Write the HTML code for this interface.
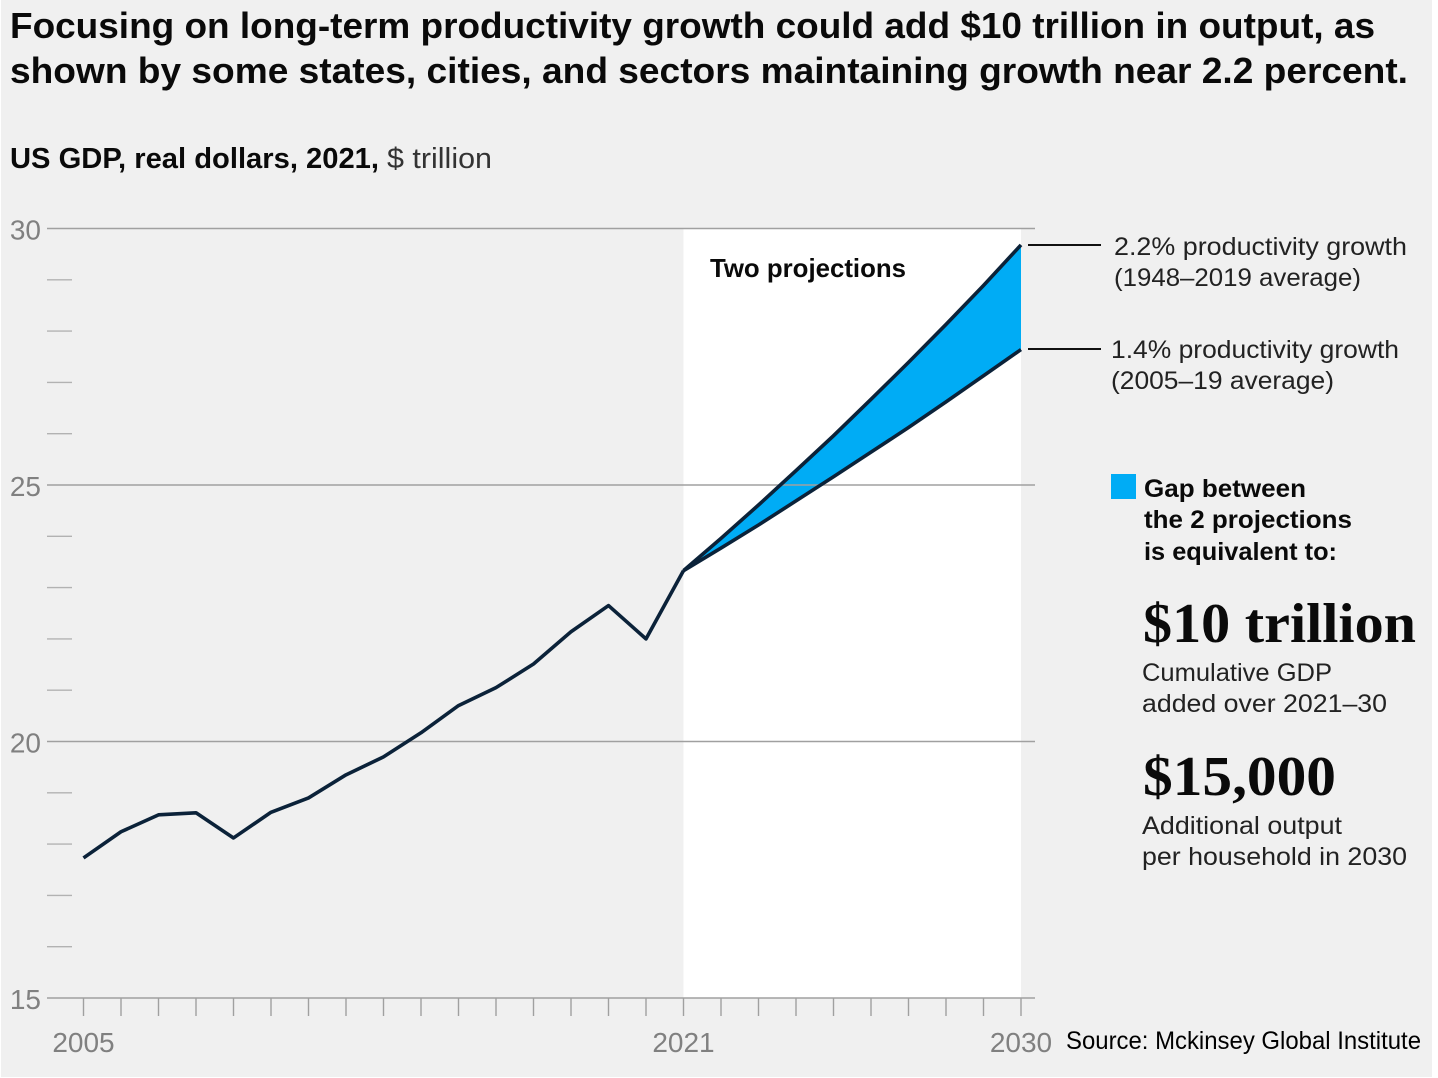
<!DOCTYPE html>
<html lang="en">
<head>
<meta charset="utf-8">
<title>US GDP projections</title>
<style>
html,body{margin:0;padding:0;background:#fff;width:1438px;height:1078px;overflow:hidden}
svg{display:block}
text{font-family:"Liberation Sans",sans-serif}
.med{fill:#0a0a0a;font-weight:bold}
.lab{fill:#222;font-size:25px}
.serif{font-family:"Liberation Serif",serif;font-weight:bold;fill:#0a0a0a}
</style>
</head>
<body>
<svg id="chart" width="1438" height="1078" viewBox="0 0 1438 1078" xmlns="http://www.w3.org/2000/svg">
  <rect x="1" y="0" width="1431" height="1077" fill="#f0f0f0"/>

  <text class="med" x="10" y="38" font-size="36" textLength="1365" lengthAdjust="spacingAndGlyphs">Focusing on long-term productivity growth could add $10 trillion in output, as</text>
  <text class="med" x="10" y="83" font-size="36" textLength="1398" lengthAdjust="spacingAndGlyphs">shown by some states, cities, and sectors maintaining growth near 2.2 percent.</text>
  <text class="med" x="10" y="168" font-size="29" textLength="369" lengthAdjust="spacingAndGlyphs">US GDP, real dollars, 2021,</text>
  <text x="387" y="168" font-size="29" fill="#333" textLength="105" lengthAdjust="spacingAndGlyphs">$ trillion</text>

  <rect id="projection-panel" fill="#ffffff"/>
  <g id="plot"></g>

  <text class="med" x="710" y="277" font-size="26" textLength="196" lengthAdjust="spacingAndGlyphs">Two projections</text>

  <line x1="1028" x2="1101" y1="245" y2="245" stroke="#111" stroke-width="2"/>
  <line x1="1028" x2="1101" y1="349" y2="349" stroke="#111" stroke-width="2"/>
  <text class="lab" x="1114" y="255" textLength="293" lengthAdjust="spacingAndGlyphs">2.2% productivity growth</text>
  <text class="lab" x="1114" y="286" textLength="247" lengthAdjust="spacingAndGlyphs">(1948–2019 average)</text>
  <text class="lab" x="1111" y="358" textLength="288" lengthAdjust="spacingAndGlyphs">1.4% productivity growth</text>
  <text class="lab" x="1111" y="389" textLength="223" lengthAdjust="spacingAndGlyphs">(2005–19 average)</text>

  <rect x="1111" y="474" width="25" height="25" fill="#00acf5"/>
  <text class="med" x="1144" y="497" font-size="25" textLength="162" lengthAdjust="spacingAndGlyphs">Gap between</text>
  <text class="med" x="1144" y="528" font-size="25" textLength="208" lengthAdjust="spacingAndGlyphs">the 2 projections</text>
  <text class="med" x="1144" y="560" font-size="25" textLength="193" lengthAdjust="spacingAndGlyphs">is equivalent to:</text>

  <text class="serif" x="1143" y="642" font-size="56" textLength="273" lengthAdjust="spacingAndGlyphs">$10 trillion</text>
  <text class="lab" x="1142" y="681" textLength="190" lengthAdjust="spacingAndGlyphs">Cumulative GDP</text>
  <text class="lab" x="1142" y="712" textLength="245" lengthAdjust="spacingAndGlyphs">added over 2021–30</text>

  <text class="serif" x="1143" y="795" font-size="56" textLength="193" lengthAdjust="spacingAndGlyphs">$15,000</text>
  <text class="lab" x="1142" y="834" textLength="200" lengthAdjust="spacingAndGlyphs">Additional output</text>
  <text class="lab" x="1142" y="865" textLength="265" lengthAdjust="spacingAndGlyphs">per household in 2030</text>

  <text x="1066" y="1049" font-size="25" fill="#000" textLength="355" lengthAdjust="spacingAndGlyphs">Source: Mckinsey Global Institute</text>
</svg>
<script>
var historyYears = [2005,2006,2007,2008,2009,2010,2011,2012,2013,2014,2015,2016,2017,2018,2019,2020,2021];
var historyValues = [17.73,18.24,18.57,18.61,18.12,18.62,18.90,19.35,19.70,20.17,20.70,21.05,21.51,22.14,22.65,22.00,23.33];
var projectionYears = [2021,2022,2023,2024,2025,2026,2027,2028,2029,2030];
var highGrowthValues = [23.33,23.96,24.61,25.28,25.96,26.67,27.39,28.13,28.89,29.68];
var lowGrowthValues = [23.33,23.77,24.22,24.69,25.16,25.64,26.12,26.62,27.13,27.64];
var yMajorTicks = [15,20,25,30];
var yMinorTicks = [16,17,18,19,21,22,23,24,26,27,28,29];
var xTickYears = [2005,2006,2007,2008,2009,2010,2011,2012,2013,2014,2015,2016,2017,2018,2019,2020,2021,2022,2023,2024,2025,2026,2027,2028,2029,2030];
var xLabelYears = [2005,2021,2030];

function xScale(year){ return 83.5 + (year - 2005) * 37.5; }
function yScale(value){ return 998 - (value - 15) * 51.3; }

var svgNS = 'http://www.w3.org/2000/svg';
var plot = document.getElementById('plot');
function make(tag, attrs){
  var el = document.createElementNS(svgNS, tag);
  for (var k in attrs) { el.setAttribute(k, attrs[k]); }
  plot.appendChild(el);
  return el;
}
function pointString(years, values){
  return years.map(function(y, i){ return xScale(y) + ',' + yScale(values[i]); }).join(' ');
}

var panel = document.getElementById('projection-panel');
panel.setAttribute('x', xScale(2021));
panel.setAttribute('y', yScale(30));
panel.setAttribute('width', xScale(2030) - xScale(2021));
panel.setAttribute('height', yScale(15) - yScale(30));

var gapArea = make('polygon', {
  points: pointString(projectionYears, highGrowthValues) + ' ' +
    pointString(projectionYears.slice().reverse(), lowGrowthValues.slice().reverse()),
  fill: '#00acf5'
});



yMinorTicks.forEach(function(v){
  var t = make('line', {x1: 47, x2: 72, y1: yScale(v), y2: yScale(v), stroke: '#b2b2b2', 'stroke-width': 1.4});
  
  
});

yMajorTicks.forEach(function(v){
  var g = make('line', {x1: 47, x2: 1035, y1: yScale(v), y2: yScale(v), stroke: '#a0a0a0', 'stroke-width': 1.4});
  
  
  var l = make('text', {x: 41, y: yScale(v) + 11, 'text-anchor': 'end', 'font-size': 28, fill: '#808080'});
  
  
  l.textContent = v;
});

xTickYears.forEach(function(yr){
  var t = make('line', {x1: xScale(yr), x2: xScale(yr), y1: yScale(15), y2: 1016, stroke: '#a0a0a0', 'stroke-width': 1.4});
  
  
});

xLabelYears.forEach(function(yr){
  var l = make('text', {x: xScale(yr), y: 1052, 'text-anchor': 'middle', 'font-size': 28, fill: '#808080'});
  
  
  l.textContent = yr;
});

var lineStyle = {fill: 'none', stroke: '#0b2239', 'stroke-width': 3.6, 'stroke-linejoin': 'round'};
function drawLine(years, values){
  var a = {points: pointString(years, values)};
  for (var k in lineStyle) { a[k] = lineStyle[k]; }
  return make('polyline', a);
}
var historyLine = drawLine(historyYears, historyValues);


var highLine = drawLine(projectionYears, highGrowthValues);


var lowLine = drawLine(projectionYears, lowGrowthValues);


</script>
</body>
</html>
